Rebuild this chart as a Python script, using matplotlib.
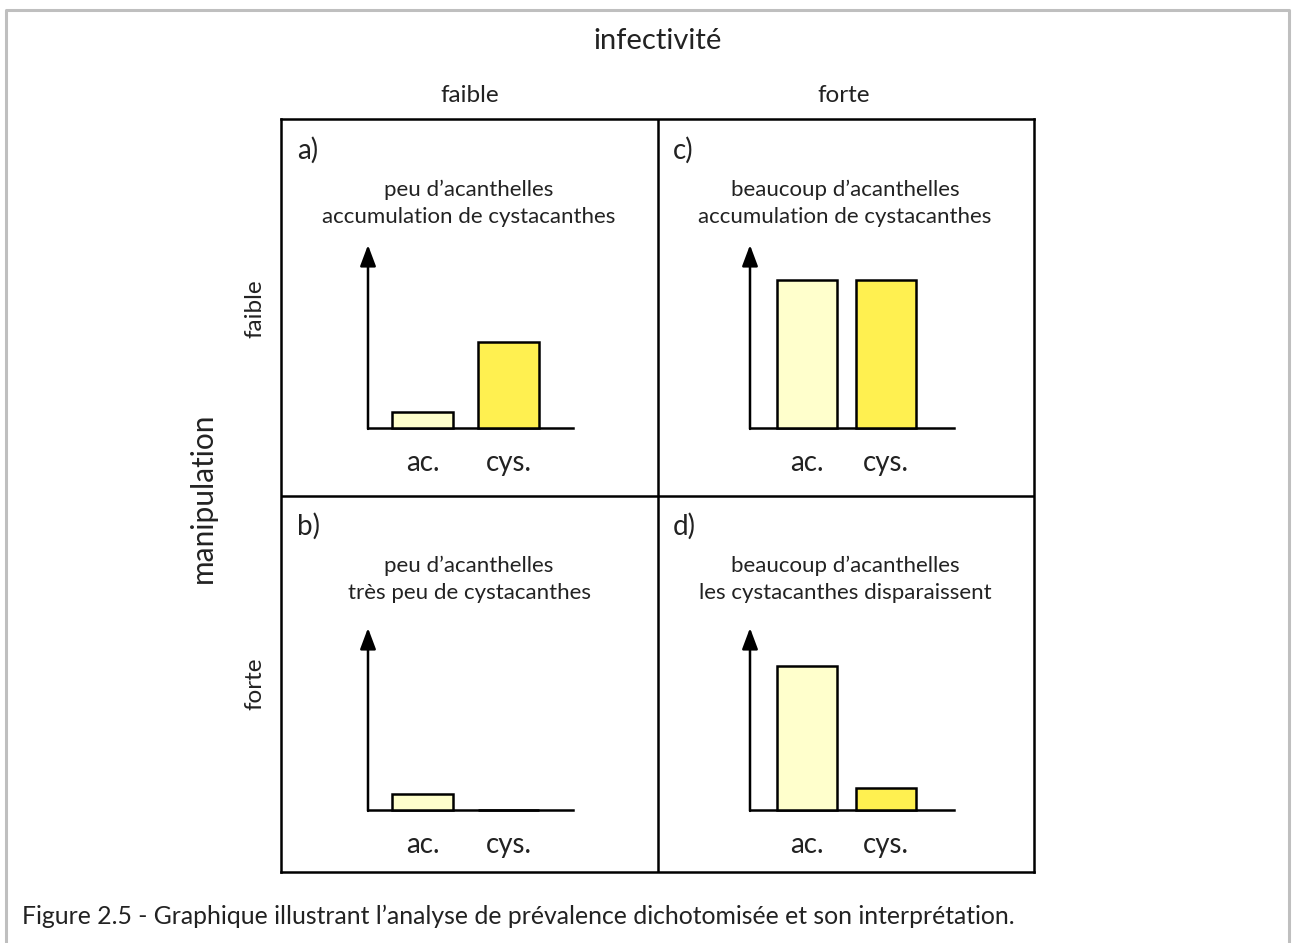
import matplotlib.pyplot as plt
from matplotlib.lines import Line2D

plt.rcParams['font.family'] = ['Lato', 'DejaVu Sans']

W, H = 1293, 943

categories = ["ac.", "cys."]
colors = ["#FFFFCC", "#FFF050"]
panel_letters = ["a)", "b)", "c)", "d)"]
panel_notes = [
    "peu d\u2019acanthelles\naccumulation de cystacanthes",
    "peu d\u2019acanthelles\ntr\u00e8s peu de cystacanthes",
    "beaucoup d\u2019acanthelles\naccumulation de cystacanthes",
    "beaucoup d\u2019acanthelles\nles cystacanthes disparaissent",
]
# bar heights, % of the axis arrow
panel_values = [[9, 47], [9, 0], [81, 81], [79, 12]]
col_labels = ["faible", "forte"]
row_labels = ["faible", "forte"]
caption = ("Figure 2.5 - Graphique illustrant l\u2019analyse de pr\u00e9valence "
           "dichotomis\u00e9e et son interpr\u00e9tation.")

TXT = "#222222"


def fx(px):
    return px / W


def fy(py):
    return 1 - py / H


fig = plt.figure(figsize=(W / 100, H / 100), dpi=100)

# light grey frame around everything (open at the bottom)
fig.add_artist(Line2D([fx(5.5), fx(5.5), fx(1289), fx(1289)],
                      [fy(960), fy(9.5), fy(9.5), fy(960)],
                      color="#BFBFBF", lw=2.2))

# 2x2 grid
grid = fig.add_axes([fx(281), fy(872), fx(1034 - 281), (872 - 119) / H])
grid.set_xlim(0, 2)
grid.set_ylim(0, 2)
grid.set_xticks([])
grid.set_yticks([])
for s in grid.spines.values():
    s.set_linewidth(1.8)
grid.axvline(1, color="k", lw=1.8)
grid.axhline(1, color="k", lw=1.8)

# per column: axis x, right end, bar spacing px, first bar offset, bar width px
cols = [(368, 573, 86.0, 54.5, 61), (750, 954, 79.5, 56.5, 60)]
# per row: baseline y, arrow tip y
rows = [(428, 245), (810, 628)]
order = [(0, 0), (1, 0), (0, 1), (1, 1)]  # (row, col) of a, b, c, d

for k, (r, c) in enumerate(order):
    x0, x1, step, off, bw = cols[c]
    base, tip = rows[r]
    ax = fig.add_axes([fx(x0), fy(base), (x1 - x0) / W, (base - tip) / H])
    lo = -off / step
    ax.set_xlim(lo, lo + (x1 - x0) / step)
    ax.set_ylim(0, 100)
    ax.bar(range(len(categories)), panel_values[k], width=bw / step,
           color=colors, edgecolor="k", linewidth=1.8, zorder=3, clip_on=False)
    for s in ["top", "right", "left"]:
        ax.spines[s].set_visible(False)
    ax.spines["bottom"].set_linewidth(1.8)
    ax.set_yticks([])
    ax.set_xticks(range(len(categories)), categories)
    ax.tick_params(axis="x", length=0, pad=16, labelsize=20, labelcolor=TXT)
    ax.annotate("", xy=(0, 1), xytext=(0, -0.005), xycoords="axes fraction",
                arrowprops=dict(arrowstyle="-|>,head_length=0.8,head_width=0.3",
                                mutation_scale=16, lw=1.8, color="k",
                                shrinkA=0, shrinkB=0))

    px0 = 281 + c * 376
    py0 = 119 + r * 376
    fig.text(fx(px0 + 16), fy(py0 + 31), panel_letters[k], fontsize=20,
             color=TXT, va="center", ha="left")
    fig.text(fx(px0 + 188), fy(py0 + 84), panel_notes[k], fontsize=16,
             color=TXT, va="center", ha="center", linespacing=1.45)

fig.text(fx(658), fy(41), "infectivit\u00e9", fontsize=21, color=TXT,
         ha="center", va="center")
fig.text(fx(470), fy(96), col_labels[0], fontsize=17.5, color=TXT,
         ha="center", va="center")
fig.text(fx(844), fy(96), col_labels[1], fontsize=17.5, color=TXT,
         ha="center", va="center")
fig.text(fx(203), fy(498), "manipulation", fontsize=21.5, color=TXT,
         ha="center", va="center", rotation=90)
fig.text(fx(255), fy(309), row_labels[0], fontsize=17.5, color=TXT,
         ha="center", va="center", rotation=90)
fig.text(fx(255), fy(684), row_labels[1], fontsize=17.5, color=TXT,
         ha="center", va="center", rotation=90)

fig.text(fx(22), fy(916), caption, fontsize=17.8, color=TXT,
         ha="left", va="center")

fig.savefig("out.png", dpi=100)
